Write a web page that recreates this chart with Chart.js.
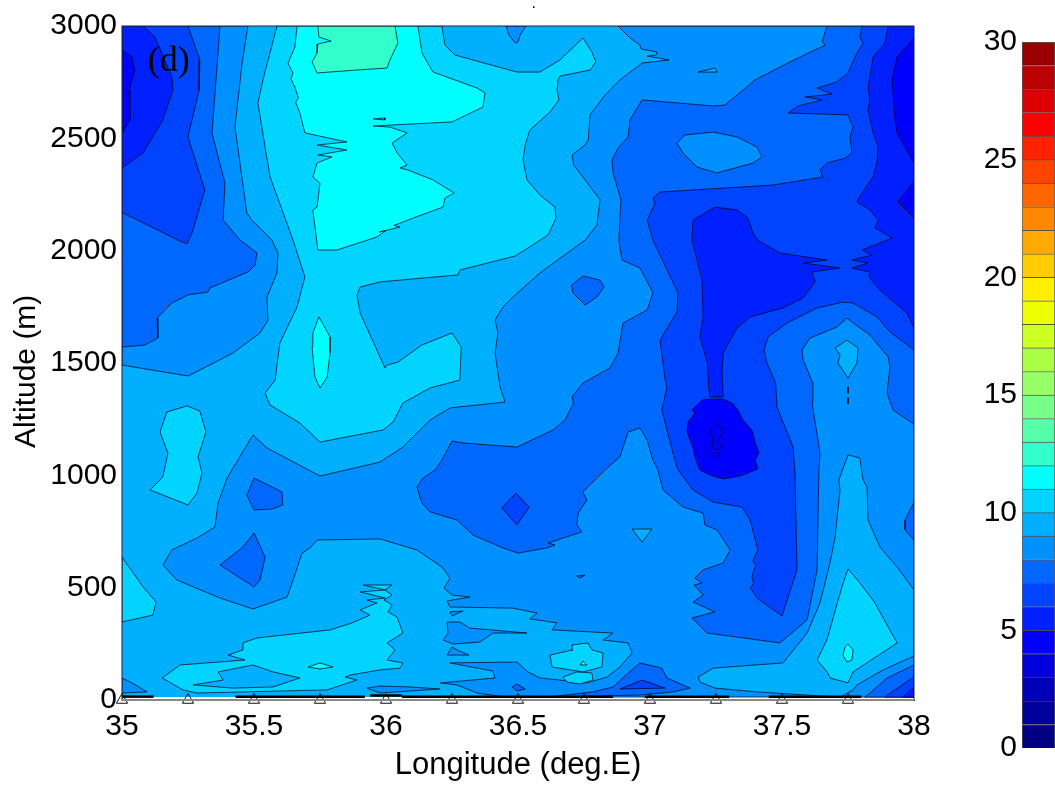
<!DOCTYPE html>
<html>
<head>
<meta charset="utf-8">
<title>Longitude altitude section</title>
<script src="https://cdn.jsdelivr.net/npm/chart.js@4/dist/chart.umd.min.js"></script>
<style>
body { margin: 0; background: #fff; }
canvas { position: absolute; left: 0; top: 0; }
</style>
</head>
<body>
<canvas id="section" width="1055" height="786"></canvas>
<canvas id="colorbar" width="1055" height="786"></canvas>
<script>
// contour bands, 1 unit per band from 0 to 30
const bandColors = ['#000080', '#00009a', '#0000b8', '#0000dc', '#0000ff', '#0020ff', '#0044ff', '#0068ff', '#0090ff', '#00b0ff',
    '#00d4ff', '#00ffff', '#33ffcc', '#55ffaa', '#77ff88', '#99ff66', '#aaff44', '#ccff22', '#eeff00', '#ffee00',
    '#ffcc00', '#ffaa00', '#ff8800', '#ff6600', '#ff4400', '#ff2200', '#ff0000', '#dd0000', '#bb0000', '#990000'];
const bandWidths = new Array(30).fill(1);

const lonTicks = [35, 35.5, 36, 36.5, 37, 37.5, 38];
const stations = [35, 35.25, 35.5, 35.75, 36, 36.25, 36.5, 36.75, 37, 37.25, 37.5, 37.75];
const stationAlt = [0, 0, 0, 0, 0, 0, 0, 0, 0, 0, 0, 0];

// [lon, alt] outlines of each contour region
const wholeField = [[35,13],[38,13],[38,3000],[35,3000]];
const west8 = [[35,3000],[35.477,3000],[35.455,2835],[35.428,2550],[35.473,2168],[35.492,2136],[35.568,2047],[35.591,1990],[35.587,1900],[35.549,1794],[35.553,1691],[35.523,1634],[35.42,1544],[35.25,1442],[35,1491]];
const west7 = [[35,3000],[35.371,3000],[35.364,2880],[35.341,2524],[35.39,2301],[35.383,2136],[35.447,2047],[35.511,1990],[35.504,1936],[35.477,1905],[35.333,1834],[35.326,1816],[35.25,1803],[35.189,1767],[35.133,1700],[35.136,1611],[35.087,1580],[35,1571]];
const west6 = [[35,3000],[35.25,3000],[35.295,2849],[35.292,2715],[35.25,2506],[35.314,2270],[35.265,2079],[35.246,2030],[35.212,2047],[35,2170]];
const west5 = [[35,3000],[35.08,3000],[35.125,2951],[35.189,2773],[35.193,2715],[35.155,2582],[35.08,2435],[35,2368]];
const west4 = [[35,2893],[35.038,2862],[35.049,2804],[35.027,2715],[35.03,2582],[35,2524]];

const main8 = [[36.879,3000],[36.924,2947],[36.962,2915],[36.966,2898],[37.027,2884],[37.023,2871],[36.989,2866],[37.072,2849],[36.97,2835],[36.886,2760],[36.83,2693],[36.773,2604],[36.766,2493],[36.754,2470],[36.705,2426],[36.711,2381],[36.754,2315],[36.811,2226],[36.799,2114],[36.754,2047],[36.583,1901],[36.481,1794],[36.443,1749],[36.413,1691],[36.424,1634],[36.413,1544],[36.432,1393],[36.451,1326],[36.242,1300],[36.167,1246],[36.064,1126],[35.977,1059],[35.75,997],[35.549,1122],[35.496,1180],[35.398,988],[35.364,877],[35.352,770],[35.284,721],[35.189,668],[35.155,601],[35.208,534],[35.371,454],[35.496,405],[35.625,458],[35.648,534],[35.682,654],[35.712,677],[35.739,712],[35.977,717],[36.117,668],[36.212,592],[36.242,543],[36.22,498],[36.25,467],[36.318,458],[36.231,441],[36.242,414],[36.481,409],[36.572,387],[36.545,361],[36.648,343],[36.629,312],[36.86,298],[36.822,267],[36.917,254],[36.932,209],[36.886,147],[36.837,102],[36.761,76],[36.583,98],[36.538,125],[36.496,169],[36.242,165],[36.405,129],[36.413,98],[36.205,76],[36.269,67],[36.345,31],[36.458,13],[38,13],[38,3000]];
const notch8 = [[36.455,3000],[36.466,2960],[36.489,2924],[36.5,2929],[36.508,2960],[36.53,3000]];

const main7 = [[37.67,3000],[37.652,2929],[37.663,2915],[37.53,2840],[37.398,2760],[37.284,2648],[37.239,2644],[36.97,2671],[36.924,2582],[36.917,2506],[36.879,2457],[36.856,2404],[36.86,2346],[36.89,2226],[36.882,2047],[36.894,1958],[36.962,1923],[37.011,1812],[36.989,1736],[36.898,1678],[36.879,1544],[36.848,1478],[36.746,1411],[36.705,1349],[36.71,1322],[36.678,1246],[36.633,1202],[36.496,1126],[36.292,1144],[36.25,1153],[36.212,1068],[36.186,1024],[36.14,988],[36.117,948],[36.136,877],[36.167,837],[36.269,801],[36.33,734],[36.443,677],[36.5,654],[36.61,677],[36.64,690],[36.614,699],[36.742,748],[36.723,779],[36.728,832],[36.761,890],[36.746,926],[36.83,1024],[36.886,1082],[36.917,1193],[36.962,1211],[36.989,1157],[37.011,1068],[37.03,1024],[37.049,935],[37.125,859],[37.201,832],[37.208,779],[37.254,757],[37.303,668],[37.277,610],[37.201,579],[37.17,543],[37.197,521],[37.167,512],[37.201,467],[37.163,436],[37.246,392],[37.159,365],[37.186,334],[37.216,298],[37.492,254],[37.595,356],[37.633,579],[37.64,1024],[37.644,1099],[37.614,1322],[37.617,1411],[37.58,1513],[37.576,1558],[37.606,1611],[37.708,1660],[37.746,1700],[37.769,1678],[37.833,1625],[37.902,1527],[37.909,1482],[37.898,1366],[37.92,1291],[38,1228],[38,3000]];
const island8 = [[37.102,2479],[37.133,2515],[37.239,2528],[37.33,2506],[37.405,2461],[37.424,2417],[37.39,2390],[37.254,2346],[37.178,2372],[37.125,2435]];
const sliver9 = [[37.182,2795],[37.246,2813],[37.254,2795]];

const main6 = [[37.803,3000],[37.795,2951],[37.807,2924],[37.784,2880],[37.75,2791],[37.708,2751],[37.633,2724],[37.689,2697],[37.587,2684],[37.652,2671],[37.561,2644],[37.523,2613],[37.75,2604],[37.769,2550],[37.758,2506],[37.765,2435],[37.739,2412],[37.67,2390],[37.644,2359],[37.655,2328],[37.466,2292],[37.038,2261],[37.011,2234],[37.019,2212],[36.989,2136],[37.011,2047],[37.106,1812],[37.102,1727],[37.038,1602],[37.057,1424],[37.064,1393],[37.045,1291],[37.087,1099],[37.106,1024],[37.163,935],[37.239,881],[37.348,859],[37.379,801],[37.409,668],[37.39,620],[37.4,600],[37.386,547],[37.392,520],[37.38,500],[37.405,454],[37.5,374],[37.557,579],[37.549,1024],[37.542,1126],[37.481,1304],[37.476,1411],[37.443,1500],[37.432,1558],[37.447,1616],[37.519,1678],[37.633,1745],[37.731,1771],[37.769,1767],[37.86,1705],[37.909,1638],[38,1558],[38,3000]];
const central5 = [[37.159,2047],[37.163,2136],[37.246,2194],[37.33,2181],[37.371,2145],[37.39,2079],[37.409,2047],[37.492,1990],[37.67,1958],[37.58,1945],[37.72,1923],[37.614,1905],[37.625,1861],[37.58,1789],[37.504,1745],[37.379,1705],[37.33,1656],[37.277,1544],[37.273,1455],[37.277,1349],[37.227,1349],[37.222,1393],[37.218,1500],[37.189,1616],[37.201,1705],[37.197,1869]];
const blob4 = [[37.197,1335],[37.159,1291],[37.17,1277],[37.144,1237],[37.14,1193],[37.163,1122],[37.17,1082],[37.189,1024],[37.227,1001],[37.277,984],[37.341,997],[37.409,1028],[37.398,1068],[37.413,1099],[37.398,1148],[37.386,1202],[37.352,1246],[37.333,1291],[37.311,1322],[37.273,1340],[37.231,1340]];
const core4 = [[37.227,1202],[37.254,1233],[37.277,1202],[37.254,1144],[37.277,1126],[37.254,1113],[37.235,1126],[37.239,1157]];
const coreTip4 = [[37.239,1091],[37.25,1104],[37.265,1091],[37.25,1082]];
const east5 = [[37.902,3000],[37.89,2924],[37.845,2862],[37.826,2728],[37.833,2671],[37.826,2626],[37.845,2524],[37.864,2461],[37.859,2390],[37.845,2328],[37.803,2257],[37.784,2217],[37.833,2181],[37.864,2136],[37.852,2101],[37.917,2056],[37.803,2003],[37.841,1981],[37.765,1958],[37.826,1945],[37.765,1923],[37.833,1905],[37.829,1883],[37.871,1825],[37.973,1723],[38,1656],[38,3000]];
const east4a = [[38,2947],[37.936,2862],[37.917,2760],[37.928,2582],[37.936,2524],[38,2390]];
const east4b = [[38,2306],[37.939,2217],[38,2145]];

const lobe9 = [[37.75,1091],[37.795,1077],[37.807,979],[37.822,948],[37.826,801],[37.871,681],[37.936,592],[38,490],[38,196],[37.883,134],[37.784,67],[37.769,45],[37.72,13],[37.405,36],[37.246,53],[37.189,80],[37.182,102],[37.239,142],[37.504,165],[37.595,298],[37.644,432],[37.682,610],[37.701,725],[37.72,935],[37.715,979]];
const diamond9 = [[37.746,1602],[37.788,1567],[37.784,1500],[37.75,1433],[37.712,1500],[37.72,1536],[37.701,1567]];
const dash9a = [[37.749,1393],[37.751,1393],[37.75,1366]];
const dash9b = [[37.749,1345],[37.751,1345],[37.75,1318]];
const edge7 = [[38,881],[37.966,801],[37.966,757],[38,712]];
const triangle10 = [[37.75,583],[37.727,503],[37.67,267],[37.633,178],[37.674,120],[37.682,98],[37.75,76],[37.769,125],[37.936,254],[37.902,325],[37.852,432],[37.795,521]];
const triangleCore11 = [[37.75,249],[37.769,223],[37.765,178],[37.746,169],[37.731,200],[37.739,236]];

const patch7a = [[36.746,1887],[36.811,1869],[36.826,1838],[36.799,1794],[36.754,1758],[36.708,1812],[36.703,1847]];
const patch7b = [[35.5,988],[35.606,926],[35.609,868],[35.568,850],[35.5,846],[35.473,912]];
const patch7c = [[35.5,743],[35.542,636],[35.523,534],[35.5,503],[35.371,601],[35.458,681]];
const patch6 = [[36.492,921],[36.542,859],[36.496,779],[36.439,855]];
const patch9 = [[36.932,761],[37.008,761],[36.97,703]];
const dash7 = [[36.723,552],[36.754,556],[36.735,543]];
const floor7 = [[36.962,165],[37.045,142],[37.064,98],[37.152,53],[37.087,36],[36.962,22],[36.61,13],[36.784,36],[36.86,58],[36.917,120]];
const floor6 = [[36.97,89],[37.057,53],[36.886,49]];
const floor8 = [[35,98],[35.038,76],[35.095,36],[35,31]];
const corner7 = [[37.833,31],[37.898,98],[38,156],[38,13],[37.814,13]];
const corner6 = [[37.909,31],[38,102],[38,13],[37.89,13]];
const corner5 = [[37.958,13],[38,58],[38,13]];

const main10 = [[35.587,3000],[35.534,2760],[35.515,2657],[35.542,2461],[35.561,2328],[35.648,2047],[35.693,1883],[35.663,1749],[35.598,1589],[35.58,1424],[35.542,1366],[35.561,1313],[35.674,1233],[35.75,1148],[35.989,1202],[36.027,1237],[36.064,1322],[36.167,1389],[36.28,1424],[36.285,1571],[36.25,1634],[36.136,1580],[36.045,1504],[36.004,1491],[35.996,1478],[35.902,1723],[35.89,1803],[35.902,1838],[35.977,1861],[36.273,1892],[36.28,1914],[36.489,1976],[36.538,2012],[36.614,2070],[36.644,2145],[36.64,2194],[36.583,2248],[36.534,2315],[36.519,2404],[36.527,2470],[36.545,2537],[36.621,2617],[36.655,2671],[36.648,2715],[36.652,2760],[36.659,2777],[36.773,2804],[36.795,2840],[36.78,2884],[36.746,2947],[36.659,2849],[36.583,2795],[36.496,2795],[36.356,2840],[36.261,2871],[36.223,2915],[36.212,3000]];
const main11 = [[35.663,3000],[35.655,2906],[35.629,2835],[35.648,2790],[35.64,2765],[35.655,2728],[35.668,2680],[35.658,2660],[35.674,2613],[35.693,2524],[35.852,2484],[35.739,2470],[35.852,2448],[35.742,2426],[35.795,2417],[35.739,2390],[35.723,2328],[35.75,2301],[35.739,2194],[35.723,2181],[35.742,2003],[35.814,2003],[35.966,2061],[36.0,2090],[35.975,2083],[36.053,2105],[36.03,2112],[36.102,2145],[36.216,2194],[36.223,2234],[36.258,2257],[36.178,2315],[36.083,2359],[36.053,2368],[36.08,2381],[36.042,2435],[36.023,2479],[36.08,2524],[36.015,2550],[35.951,2555],[36.25,2573],[36.367,2639],[36.375,2702],[36.345,2724],[36.178,2795],[36.136,2880],[36.121,3000]];
const dash10 = [[35.951,2586],[35.996,2591],[35.996,2582]];
const top12 = [[35.742,3000],[35.746,2951],[35.792,2933],[35.742,2920],[35.739,2880],[35.72,2840],[35.739,2791],[35.89,2804],[36.004,2813],[36.015,2849],[36.045,2924],[36.034,3000]];
const spindle11 = [[35.746,1705],[35.788,1616],[35.788,1544],[35.777,1438],[35.75,1389],[35.731,1438],[35.72,1571],[35.723,1634]];

const edge10 = [[35,636],[35.08,503],[35.129,436],[35.117,378],[35,347]];
const island10 = [[35.246,1309],[35.295,1286],[35.318,1193],[35.288,1082],[35.303,1010],[35.284,921],[35.25,868],[35.106,935],[35.155,993],[35.174,1099],[35.144,1193],[35.17,1282]];
const floor10 = [[35.152,98],[35.22,156],[35.466,178],[35.402,200],[35.458,223],[35.458,254],[35.511,276],[35.788,312],[35.871,343],[35.939,378],[35.902,401],[35.966,432],[35.928,445],[35.996,454],[35.902,481],[35.996,490],[35.913,512],[36.023,512],[35.996,490],[36.023,467],[35.992,445],[36.023,423],[36.008,392],[36.042,369],[36.064,298],[36.004,254],[36.034,223],[36.004,178],[36.064,165],[36.053,142],[35.977,134],[35.864,111],[35.845,102],[35.89,89],[35.777,45],[35.284,31],[35.231,45]];
const floorHole9 = [[35.269,67],[35.383,89],[35.364,125],[35.496,156],[35.572,125],[35.674,98],[35.572,58],[35.42,53]];
const floorOval11 = [[35.705,147],[35.75,165],[35.799,147],[35.75,138]];
const strip8 = [[35.928,53],[35.977,62],[36.091,58],[36.205,49],[35.977,31]];
const cut8a = [[36.231,347],[36.28,347],[36.318,320],[36.534,298],[36.405,298],[36.356,258],[36.254,249],[36.216,267],[36.235,298]];
const cut8b = [[36.231,200],[36.314,200],[36.269,223],[36.25,236]];
const cut8c = [[36.242,392],[36.292,396],[36.25,374]];
const speck7 = [[36.477,58],[36.496,71],[36.527,49],[36.496,40]];
const oval10a = [[36.621,200],[36.708,223],[36.705,245],[36.765,254],[36.78,223],[36.822,209],[36.818,147],[36.746,125],[36.629,147]];
const oval10b = [[36.67,102],[36.723,125],[36.78,120],[36.784,89],[36.735,71],[36.686,80]];
const speck11 = [[36.735,156],[36.746,174],[36.761,156]];

// terrain traces along the ground
const groundLines = [[[35,15],[35.12,15]], [[35.43,15],[35.92,15]], [[35.94,20],[36.06,20]], [[36.06,15],[36.86,15]], [[36.98,15],[37.3,15]], [[37.45,15],[37.8,15]]];

// band number and outline, painted in this order
const paintOrder = [
    [9, wholeField], [8, west8], [7, west7], [6, west6], [5, west5], [4, west4],
    [8, main8], [8, notch8], [7, main7], [8, island8], [9, sliver9],
    [6, main6], [5, central5], [4, blob4], [4, core4], [4, coreTip4], [5, east5], [4, east4a], [4, east4b],
    [9, lobe9], [9, diamond9], [9, dash9a], [9, dash9b], [7, edge7], [10, triangle10], [11, triangleCore11],
    [7, patch7a], [7, patch7b], [7, patch7c], [6, patch6], [9, patch9], [7, dash7],
    [7, floor7], [6, floor6], [8, floor8], [7, corner7], [6, corner6], [5, corner5],
    [10, main10], [11, main11], [10, dash10], [12, top12], [11, spindle11],
    [10, edge10], [10, island10], [10, floor10], [9, floorHole9], [11, floorOval11], [8, strip8],
    [8, cut8a], [8, cut8b], [8, cut8c], [7, speck7], [10, oval10a], [10, oval10b], [11, speck11]
];

function ring(outline) {
    var pts = outline.map(function(p) { return { x: p[0], y: p[1] }; });
    pts.push(pts[0]);
    return pts;
}

var datasets = paintOrder.map(function(item) {
    return {
        data: ring(item[1]),
        showLine: true,
        fill: 'shape',
        backgroundColor: bandColors[item[0]],
        borderColor: item[1] === wholeField ? 'rgba(0,0,0,0)' : 'rgba(0,0,20,0.7)',
        borderWidth: 1,
        pointRadius: 0,
        tension: 0
    };
});

groundLines.forEach(function(g) {
    datasets.push({
        data: g.map(function(p) { return { x: p[0], y: p[1] }; }),
        showLine: true,
        fill: false,
        borderColor: '#000',
        borderWidth: 2.5,
        pointRadius: 0
    });
});

datasets.push({
    data: stations.map(function(lon, i) { return { x: lon, y: stationAlt[i] }; }),
    showLine: false,
    clip: false,
    pointStyle: 'triangle',
    pointRadius: 6.5,
    pointBackgroundColor: 'rgba(255,255,255,0)',
    pointBorderColor: '#111',
    pointBorderWidth: 1
});

// first dataset is drawn last in Chart.js, so flip the paint order
datasets.reverse();

const tickFont = { family: 'Liberation Sans', size: 30 };
const plainTick = function(value) { return String(value); };

const framePlugin = {
    id: 'frame',
    afterDatasetsDraw: function(chart) {
        var a = chart.chartArea, ctx = chart.ctx;
        ctx.save();
        ctx.strokeStyle = '#223';
        ctx.lineWidth = 1;
        ctx.strokeRect(a.left, a.top, a.right - a.left, a.bottom - a.top);
        // ground line under the field is grey
        ctx.strokeStyle = '#888';
        ctx.lineWidth = 2;
        ctx.beginPath();
        ctx.moveTo(a.left, a.bottom);
        ctx.lineTo(a.right, a.bottom);
        ctx.stroke();
        ctx.fillStyle = '#000';
        ctx.font = '36px "Liberation Serif"';
        ctx.textAlign = 'left';
        ctx.textBaseline = 'alphabetic';
        ctx.fillText('(d)', chart.scales.x.getPixelForValue(35.098), chart.scales.y.getPixelForValue(2800));
        ctx.font = '16px "Liberation Sans"';
        ctx.textAlign = 'center';
        ctx.fillText('.', chart.scales.x.getPixelForValue(36.56), a.top - 18);
        ctx.restore();
    }
};

new Chart(document.getElementById('section').getContext('2d'), {
    type: 'scatter',
    data: { datasets: datasets },
    plugins: [framePlugin],
    options: {
        responsive: false,
        animation: false,
        layout: { padding: { left: 0, top: 26, right: 141, bottom: 0 } },
        plugins: { legend: { display: false }, tooltip: { enabled: false } },
        scales: {
            x: {
                type: 'linear',
                min: 35,
                max: 38,
                afterBuildTicks: function(axis) { axis.ticks = lonTicks.map(function(v) { return { value: v }; }); },
                afterFit: function(axis) { axis.height = 86; },
                grid: { display: false, drawTicks: false },
                border: { color: '#223' },
                ticks: { color: '#000', font: tickFont, padding: 9, maxRotation: 0, autoSkip: false, callback: plainTick },
                title: { display: true, text: 'Longitude (deg.E)', color: '#000', font: { family: 'Liberation Sans', size: 31 }, padding: { top: 0, bottom: 2 } }
            },
            y: {
                min: 0,
                max: 3000,
                afterFit: function(axis) { axis.width = 122; },
                grid: { display: false, drawTicks: false },
                border: { color: '#223' },
                ticks: { color: '#000', font: tickFont, padding: 5, stepSize: 500, callback: plainTick },
                // trailing spaces push the title down the axis like the original
                title: { display: true, text: 'Altitude (m)  ', color: '#000', font: tickFont, padding: { top: 9, bottom: 0 } }
            }
        }
    }
});

new Chart(document.getElementById('colorbar').getContext('2d'), {
    type: 'bar',
    data: {
        labels: [''],
        datasets: bandWidths.map(function(w, i) {
            return {
                data: [w],
                backgroundColor: bandColors[i],
                borderColor: 'rgba(0,0,0,0.65)',
                borderWidth: 1,
                barPercentage: 1,
                categoryPercentage: 1
            };
        })
    },
    options: {
        responsive: false,
        animation: false,
        layout: { padding: { left: 962, top: 42, right: 0, bottom: 38 } },
        plugins: { legend: { display: false }, tooltip: { enabled: false } },
        scales: {
            x: { stacked: true, display: false },
            y: {
                stacked: true,
                min: 0,
                max: 30,
                afterFit: function(axis) { axis.width = 60; },
                grid: { display: false, drawTicks: false },
                border: { display: false },
                ticks: { color: '#000', font: tickFont, padding: 5, stepSize: 5, callback: plainTick }
            }
        }
    }
});
</script>
</body>
</html>
